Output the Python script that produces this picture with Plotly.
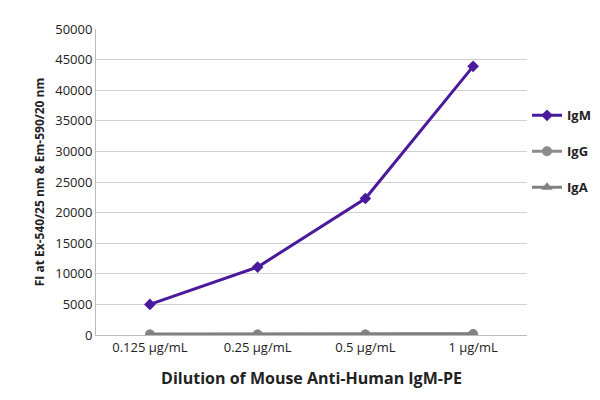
import plotly.graph_objects as go

dilutions = ["0.125 µg/mL", "0.25 µg/mL", "0.5 µg/mL", "1 µg/mL"]
igm = [5000, 11100, 22300, 43900]
igg = [100, 100, 100, 150]
iga = [150, 150, 150, 200]

fig = go.Figure()
fig.add_trace(go.Scatter(x=dilutions, y=igm, name="<b>IgM</b>", mode="lines+markers",
                         legendgroup="a",
                         line=dict(color="#4a1a9c", width=3),
                         marker=dict(symbol="diamond", size=9, color="#4a1a9c")))
fig.add_trace(go.Scatter(x=dilutions, y=igg, name="<b>IgG</b>", mode="lines+markers",
                         legendgroup="b",
                         line=dict(color="#8c8c8c", width=3),
                         marker=dict(symbol="circle", size=10, color="#8c8c8c")))
fig.add_trace(go.Scatter(x=dilutions, y=iga, name="<b>IgA</b>", mode="lines+markers",
                         legendgroup="c",
                         line=dict(color="#808080", width=3),
                         marker=dict(symbol="triangle-up", size=10, color="#808080")))

fig.update_layout(
    width=600, height=400,
    margin=dict(l=88, r=80, t=17, b=73),
    plot_bgcolor="white", paper_bgcolor="white",
    font=dict(family="Open Sans", size=13, color="#222"),
    legend=dict(x=1.0, xanchor="left", y=0.6, yanchor="middle", tracegroupgap=16,
                font=dict(size=13, color="#222", family="Open Sans")),
    xaxis=dict(title=dict(text="<b>Dilution of Mouse Anti-Human IgM-PE</b>", standoff=18),
               range=[-0.5, 3.5],
               showline=True, linecolor="#bbb", ticks="", showgrid=False),
    yaxis=dict(title=dict(text="<b>FI at Ex-540/25 nm & Em-590/20 nm</b>", standoff=8,
                          font=dict(size=12)),
               range=[0, 50000], dtick=5000, tickformat="d",
               showgrid=True, gridcolor="#d0d0d0",
               showline=True, linecolor="#bbb", zeroline=False),
)

fig.write_html("out.html")
